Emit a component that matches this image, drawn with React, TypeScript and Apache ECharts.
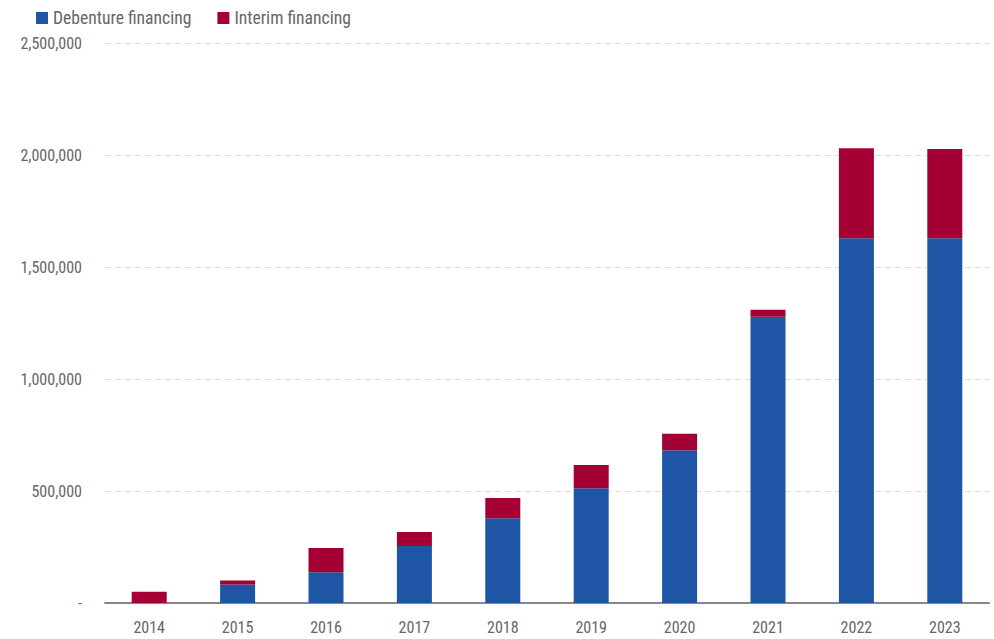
import React, { useEffect, useRef } from "react";
import * as echarts from "echarts";

const years = ["2014", "2015", "2016", "2017", "2018", "2019", "2020", "2021", "2022", "2023"];
const debenture = [0, 83000, 137000, 254000, 378000, 512000, 682000, 1278000, 1628000, 1628000];
const interim = [50000, 18000, 109000, 63000, 91000, 104000, 74000, 31000, 402000, 399000];
const yTicks = [0, 500000, 1000000, 1500000, 2000000, 2500000];

const FONT = "'Roboto Condensed', 'Liberation Sans Narrow', 'Arial Narrow', Roboto, sans-serif";

export default function App() {
  const ref = useRef<HTMLDivElement>(null);
  useEffect(() => {
    const chart = echarts.init(ref.current!, undefined, { renderer: "svg" });
    chart.setOption({
      animation: false,
      textStyle: { fontFamily: FONT },
      legend: {
        left: 31,
        top: 4,
        itemWidth: 12,
        itemHeight: 12,
        itemGap: 26,
        icon: "rect",
        textStyle: { fontFamily: FONT, fontSize: 17.6, color: "#666" },
      },
      grid: { left: 105, right: 5, top: 43, bottom: 36 },
      xAxis: {
        type: "category",
        data: years,
        axisTick: { show: false },
        axisLine: { lineStyle: { color: "#888", width: 2 } },
        axisLabel: { fontFamily: FONT, fontSize: 16, color: "#666", margin: 16 },
      },
      yAxis: {
        type: "value",
        min: 0,
        max: yTicks[yTicks.length - 1],
        interval: 500000,
        axisLine: { show: false },
        axisTick: { show: false },
        splitLine: { lineStyle: { color: "#ddd", type: [6, 4], width: 1 } },
        axisLabel: {
          fontFamily: FONT,
          fontSize: 16,
          color: "#666",
          margin: 23,
          formatter: (v: number) => (v === 0 ? "-" : v.toLocaleString("en-US")),
        },
      },
      series: [
        {
          name: "Debenture financing",
          type: "bar",
          stack: "total",
          data: debenture,
          barWidth: 35,
          itemStyle: { color: "#1f55a5" },
        },
        {
          name: "Interim financing",
          type: "bar",
          stack: "total",
          data: interim,
          barWidth: 35,
          itemStyle: { color: "#a50034" },
        },
      ],
    });
    return () => chart.dispose();
  }, []);
  return <div ref={ref} style={{ width: 994, height: 639, position: "absolute", left: 0, top: 0 }} />;
}
